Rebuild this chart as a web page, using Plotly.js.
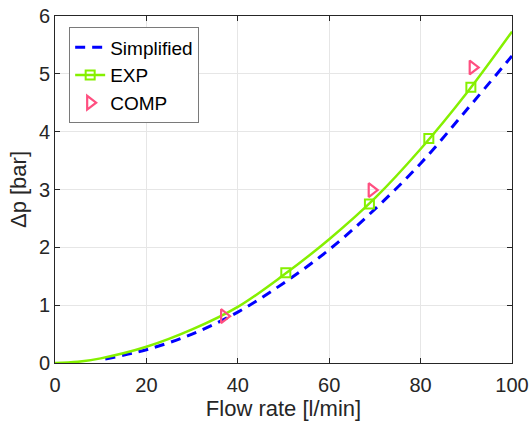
<!DOCTYPE html>
<html>
<head>
<meta charset="utf-8">
<script src="https://cdn.plot.ly/plotly-3.0.1.min.js"></script>
<style>html,body{margin:0;padding:0;background:#fff;}#chart{width:529px;height:426px;}</style>
</head>
<body>
<div id="chart"></div>
<script>
// Simplified model curve
var simpX = [11, 20, 30, 40, 50, 60, 70, 80, 90, 100];
var simpY = [0.07, 0.23, 0.50, 0.88, 1.38, 1.96, 2.66, 3.45, 4.37, 5.31];
// EXP fitted curve
var expCurveX = [0, 5, 10, 20, 30, 40, 50, 60, 70, 80, 90, 100];
var expCurveY = [0, 0.02, 0.08, 0.28, 0.58, 0.97, 1.52, 2.14, 2.85, 3.70, 4.66, 5.73];
// EXP measured points
var expX = [50.5, 68.8, 81.8, 91.0];
var expY = [1.56, 2.75, 3.88, 4.77];
// COMP points
var compX = [37.0, 69.3, 91.4];
var compY = [0.81, 2.99, 5.11];

var blue = '#0000ff', green = '#85f000', pink = '#ff4f80';
var txt = '#262626';
var fam = 'Liberation Sans, Arial, Helvetica, sans-serif';

var traces = [
  {x: simpX, y: simpY, name: 'Simplified', mode: 'lines', line: {color: blue, width: 3, dash: '10px,7px', shape: 'spline'}},
  {x: expCurveX, y: expCurveY, name: 'EXP', mode: 'lines', showlegend: false, line: {color: green, width: 2.5, shape: 'spline'}},
  {x: expX, y: expY, name: 'EXP', mode: 'markers', showlegend: false, marker: {symbol: 'square-open', size: 9, color: green, line: {color: green, width: 2}}},
  {x: [null], y: [null], name: 'EXP', mode: 'lines+markers', line: {color: green, width: 2.5}, marker: {symbol: 'square-open', size: 9, color: green, line: {color: green, width: 2}}},
  {x: compX, y: compY, name: 'COMP', mode: 'markers', marker: {symbol: 'triangle-right-open', size: 12, color: pink, line: {color: pink, width: 2.2}}}
];

var layout = {
  width: 529, height: 426,
  margin: {l: 55, r: 17, t: 15.5, b: 63},
  paper_bgcolor: '#fff', plot_bgcolor: '#fff',
  font: {family: fam, color: txt, size: 20},
  showlegend: true,
  legend: {x: 0.031, y: 0.967, xanchor: 'left', yanchor: 'top', bgcolor: '#fff', bordercolor: '#7a7a7a', borderwidth: 1, font: {size: 19, color: '#000', family: fam}, tracegroupgap: 0},
  xaxis: {
    range: [0, 100], tickvals: [0, 20, 40, 60, 80, 100], ticktext: ['0','20','40','60','80','100'],
    ticks: 'inside', ticklen: 5, tickcolor: txt, showline: true, linecolor: txt, linewidth: 1, mirror: 'ticks',
    showgrid: true, gridcolor: '#e6e6e6', gridwidth: 1, zeroline: false, automargin: 'bottom',
    tickfont: {size: 20, color: txt}, ticklabelstandoff: 4,
    title: {text: 'Flow rate [l/min]', font: {size: 22, color: txt}, standoff: 3}
  },
  yaxis: {
    range: [0, 6], tickvals: [0, 1, 2, 3, 4, 5, 6], ticktext: ['0','1','2','3','4','5','6'],
    ticks: 'inside', ticklen: 5, tickcolor: txt, showline: true, linecolor: txt, linewidth: 1, mirror: 'ticks',
    showgrid: true, gridcolor: '#e6e6e6', gridwidth: 1, zeroline: false, automargin: 'left',
    tickfont: {size: 20, color: txt},
    title: {text: 'Δp [bar]', font: {size: 22, color: txt}, standoff: 6}
  }
};

Plotly.newPlot('chart', traces, layout, {displayModeBar: false, staticPlot: true});
</script>
</body>
</html>
